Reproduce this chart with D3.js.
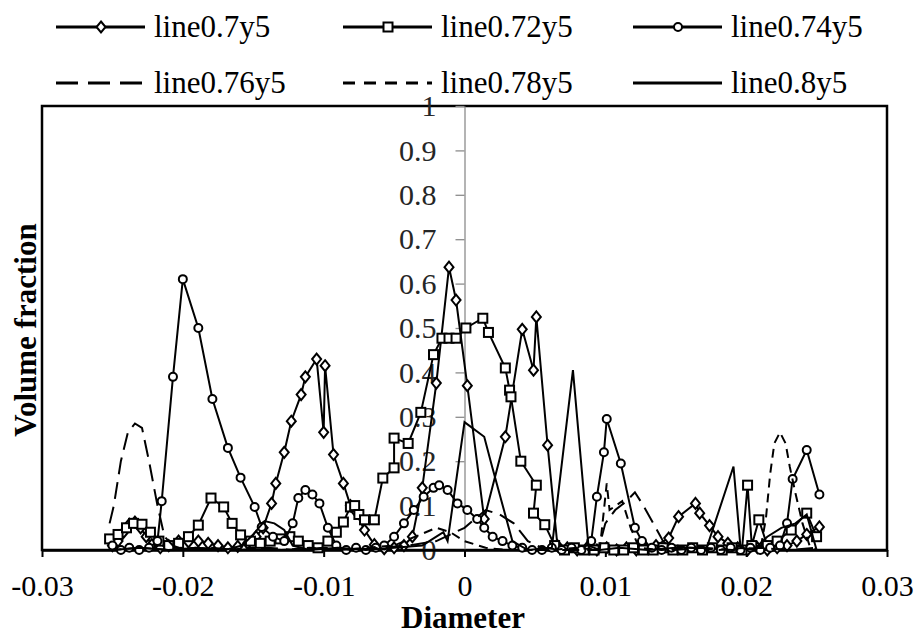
<!DOCTYPE html>
<html>
<head>
<meta charset="utf-8">
<script src="https://cdn.jsdelivr.net/npm/d3@7"></script>
<style>
  body { margin: 0; background: #fff; }
  svg text { font-family: "Liberation Serif", "Times New Roman", "DejaVu Serif", serif; }
</style>
</head>
<body>
<div id="chart-area"></div>
<script>
// series names, in legend order
var seriesNames = ["line0.7y5", "line0.72y5", "line0.74y5", "line0.76y5", "line0.78y5", "line0.8y5"];

// [diameter, volume fraction]
var s070 = [
  [-0.0250,0.010],[-0.0246,0.020],[-0.0242,0.040],[-0.0238,0.058],[-0.0234,0.063],[-0.0230,0.050],[-0.0226,0.030],[-0.0222,0.012],
  [-0.0216,0.005],[-0.0210,0.010],[-0.0203,0.020],[-0.0196,0.018],[-0.0189,0.020],[-0.0182,0.015],[-0.0175,0.010],[-0.0168,0.005],
  [-0.0161,0.008],[-0.0154,0.015],[-0.0148,0.030],[-0.0143,0.050],[-0.0137,0.105],[-0.0134,0.150],[-0.0128,0.220],[-0.0123,0.290],
  [-0.0116,0.350],[-0.0113,0.390],[-0.0105,0.430],[-0.0100,0.265],[-0.0099,0.415],[-0.0093,0.215],[-0.0086,0.150],[-0.0081,0.100],
  [-0.0078,0.090],[-0.0071,0.045],[-0.0064,0.012],[-0.0057,0.003],[-0.0050,0.005],[-0.0043,0.010],[-0.0037,0.030],[-0.0030,0.140],
  [-0.0020,0.376],[-0.0011,0.637],[-0.0006,0.563],[0.0002,0.370],[0.0014,0.070],[0.0029,0.255],[0.0041,0.497],[0.0049,0.405],
  [0.0051,0.525],[0.0059,0.236],[0.0066,0.010],[0.0073,0.005],[0.0080,0.000],[0.0087,0.005],[0.0094,0.000],[0.0101,0.005],
  [0.0108,0.000],[0.0115,0.005],[0.0122,0.000],[0.0129,0.005],[0.0136,0.010],[0.0145,0.027],[0.0152,0.075],[0.0164,0.105],
  [0.0167,0.083],[0.0174,0.055],[0.0180,0.030],[0.0187,0.015],[0.0194,0.005],[0.0201,0.000],[0.0208,0.005],[0.0215,0.000],
  [0.0222,0.005],[0.0229,0.010],[0.0236,0.020],[0.0243,0.035],[0.0252,0.052]
];
var s072 = [
  [-0.0252,0.025],[-0.0246,0.035],[-0.0240,0.050],[-0.0235,0.060],[-0.0229,0.058],[-0.0223,0.040],[-0.0217,0.020],[-0.0210,0.010],
  [-0.0203,0.015],[-0.0196,0.030],[-0.0189,0.056],[-0.0180,0.117],[-0.0171,0.097],[-0.0165,0.060],[-0.0159,0.034],[-0.0152,0.020],
  [-0.0145,0.015],[-0.0138,0.020],[-0.0131,0.025],[-0.0124,0.030],[-0.0118,0.020],[-0.0111,0.010],[-0.0104,0.005],[-0.0097,0.020],
  [-0.0091,0.040],[-0.0086,0.063],[-0.0081,0.097],[-0.0078,0.100],[-0.0075,0.080],[-0.0071,0.068],[-0.0064,0.068],[-0.0058,0.162],
  [-0.0050,0.185],[-0.0050,0.252],[-0.0040,0.240],[-0.0031,0.310],[-0.0022,0.440],[-0.0016,0.477],[-0.0011,0.477],[-0.0006,0.477],
  [0.0001,0.500],[0.0013,0.522],[0.0017,0.490],[0.0029,0.410],[0.0032,0.360],[0.0033,0.345],[0.0040,0.200],[0.0051,0.146],
  [0.0049,0.083],[0.0057,0.057],[0.0064,0.010],[0.0071,0.000],[0.0078,0.005],[0.0085,0.000],[0.0092,0.000],[0.0099,0.005],
  [0.0106,0.000],[0.0113,0.000],[0.0120,0.005],[0.0127,0.000],[0.0134,0.000],[0.0141,0.005],[0.0148,0.000],[0.0155,0.000],
  [0.0162,0.005],[0.0169,0.000],[0.0176,0.005],[0.0183,0.000],[0.0190,0.005],[0.0197,0.000],[0.0201,0.146],[0.0204,0.010],
  [0.0209,0.068],[0.0215,0.010],[0.0222,0.020],[0.0232,0.045],[0.0243,0.083],[0.0250,0.030]
];
var s074 = [
  [-0.0250,0.010],[-0.0244,0.000],[-0.0238,0.005],[-0.0231,0.000],[-0.0224,0.005],[-0.0218,0.020],[-0.0215,0.110],[-0.0207,0.390],
  [-0.0200,0.610],[-0.0189,0.500],[-0.0179,0.340],[-0.0168,0.230],[-0.0159,0.163],[-0.0149,0.097],[-0.0144,0.052],[-0.0136,0.030],
  [-0.0128,0.020],[-0.0122,0.060],[-0.0118,0.117],[-0.0113,0.135],[-0.0108,0.125],[-0.0103,0.105],[-0.0097,0.050],[-0.0091,0.010],
  [-0.0084,0.000],[-0.0077,0.005],[-0.0070,0.000],[-0.0063,0.005],[-0.0057,0.010],[-0.0050,0.030],[-0.0043,0.060],[-0.0036,0.090],
  [-0.0029,0.120],[-0.0022,0.140],[-0.0018,0.146],[-0.0012,0.135],[-0.0005,0.105],[0.0002,0.090],[0.0009,0.070],[0.0014,0.050],
  [0.0020,0.030],[0.0027,0.020],[0.0034,0.010],[0.0041,0.005],[0.0048,0.000],[0.0055,0.000],[0.0062,0.005],[0.0069,0.000],
  [0.0076,0.005],[0.0083,0.000],[0.0090,0.020],[0.0094,0.120],[0.0099,0.220],[0.0101,0.295],[0.0111,0.195],[0.0121,0.050],
  [0.0126,0.020],[0.0133,0.005],[0.0140,0.000],[0.0147,0.005],[0.0154,0.000],[0.0161,0.005],[0.0168,0.000],[0.0175,0.005],
  [0.0182,0.000],[0.0189,0.005],[0.0196,0.000],[0.0203,0.005],[0.0210,0.000],[0.0217,0.005],[0.0224,0.010],[0.0229,0.060],
  [0.0233,0.160],[0.0243,0.225],[0.0252,0.125]
];
var s076 = [
  [-0.0252,0.060],[-0.0249,0.100],[-0.0244,0.200],[-0.0239,0.265],[-0.0234,0.285],[-0.0229,0.275],[-0.0224,0.200],[-0.0218,0.100],
  [-0.0213,0.030],[-0.0207,0.010],[-0.0199,0.000],[-0.0180,0.005],[-0.0160,0.000],[-0.0140,0.005],[-0.0120,0.000],[-0.0100,0.005],
  [-0.0080,0.000],[-0.0060,0.005],[-0.0040,0.010],[-0.0020,0.020],[0.0000,0.050],[0.0015,0.090],[0.0025,0.080],[0.0035,0.060],
  [0.0045,0.020],[0.0055,0.005],[0.0070,0.000],[0.0085,0.000],[0.0095,0.000],[0.0100,0.060],[0.0107,0.090],[0.0115,0.110],
  [0.0121,0.130],[0.0127,0.100],[0.0134,0.060],[0.0141,0.020],[0.0148,0.000],[0.0170,0.005],[0.0190,0.000],[0.0210,0.005],
  [0.0230,0.000],[0.0250,0.005]
];
var s078 = [
  [-0.0250,0.000],[-0.0230,0.005],[-0.0210,0.000],[-0.0190,0.005],[-0.0170,0.000],[-0.0150,0.005],[-0.0130,0.000],[-0.0110,0.005],
  [-0.0090,0.000],[-0.0070,0.005],[-0.0050,0.010],[-0.0035,0.030],[-0.0020,0.050],[-0.0010,0.040],[0.0000,0.020],[0.0015,0.005],
  [0.0030,0.000],[0.0060,0.000],[0.0080,0.005],[0.0096,0.000],[0.0101,0.150],[0.0103,0.090],[0.0112,0.110],[0.0118,0.050],
  [0.0124,0.005],[0.0140,0.000],[0.0160,0.005],[0.0180,0.000],[0.0200,0.005],[0.0210,0.000],[0.0214,0.070],[0.0217,0.170],
  [0.0220,0.240],[0.0224,0.265],[0.0228,0.240],[0.0231,0.187],[0.0235,0.128],[0.0240,0.060],[0.0245,0.010],[0.0250,0.000]
];
var s080 = [
  [-0.0250,0.000],[-0.0230,0.005],[-0.0210,0.000],[-0.0190,0.005],[-0.0170,0.000],[-0.0158,0.010],[-0.0150,0.035],[-0.0142,0.065],
  [-0.0135,0.060],[-0.0128,0.045],[-0.0122,0.010],[-0.0110,0.000],[-0.0090,0.005],[-0.0070,0.000],[-0.0050,0.005],[-0.0030,0.010],
  [-0.0020,0.030],[-0.0015,0.040],[-0.0012,0.020],[0.0000,0.288],[0.0014,0.255],[0.0019,0.195],[0.0028,0.090],[0.0034,0.020],
  [0.0045,0.000],[0.0062,0.005],[0.0077,0.405],[0.0088,0.010],[0.0096,0.000],[0.0110,0.005],[0.0130,0.000],[0.0150,0.005],
  [0.0172,0.005],[0.0191,0.188],[0.0196,0.005],[0.0205,0.000],[0.0215,0.030],[0.0225,0.050],[0.0235,0.060],[0.0243,0.080],
  [0.0250,0.000]
];

var xTicks = [-0.03, -0.02, -0.01, 0, 0.01, 0.02, 0.03];
var xTickLabels = ["-0.03", "-0.02", "-0.01", "0", "0.01", "0.02", "0.03"];
var yTicks = [0, 0.1, 0.2, 0.3, 0.4, 0.5, 0.6, 0.7, 0.8, 0.9, 1];
var yTickLabels = ["0", "0.1", "0.2", "0.3", "0.4", "0.5", "0.6", "0.7", "0.8", "0.9", "1"];

var allSeries = [s070, s072, s074, s076, s078, s080];
// drawing style per series
var styles = [
  {dash: null, marker: "diamond"},
  {dash: null, marker: "square"},
  {dash: null, marker: "circle"},
  {dash: "17,8", marker: null},
  {dash: "9,6", marker: null},
  {dash: null, marker: null}
];

var serif = "'Liberation Serif', 'Times New Roman', 'DejaVu Serif', serif";
var width = 914, height = 634;
var plot = {left: 42, right: 887, top: 106, bottom: 550};

var svg = d3.select("#chart-area").append("svg")
    .attr("width", width)
    .attr("height", height)
    .style("background", "#fff");

var x = d3.scaleLinear().domain([-0.03, 0.03]).range([plot.left, plot.right]);
var y = d3.scaleLinear().domain([0, 1]).range([plot.bottom, plot.top]);

// plot area border
svg.append("rect")
    .attr("x", plot.left).attr("y", plot.top)
    .attr("width", plot.right - plot.left).attr("height", plot.bottom - plot.top)
    .attr("fill", "none").attr("stroke", "#000").attr("stroke-width", 2.5);

// y axis sits at diameter 0
var yAxisGroup = svg.append("g")
    .attr("transform", "translate(" + x(0) + ",0)")
    .call(d3.axisLeft(y).tickValues(yTicks)
        .tickFormat((d, i) => yTickLabels[i])
        .tickSize(9).tickSizeOuter(0).tickPadding(19));
yAxisGroup.attr("font-family", serif);
yAxisGroup.select(".domain").attr("stroke", "#8c8c8c").attr("stroke-width", 1.3);
yAxisGroup.selectAll(".tick line").attr("stroke", "#8c8c8c").attr("stroke-width", 1.3);
yAxisGroup.selectAll("text")
    .attr("font-size", "30px").attr("fill", "#262626");

var xAxisGroup = svg.append("g")
    .attr("transform", "translate(0," + y(0) + ")")
    .call(d3.axisBottom(x).tickValues(xTicks)
        .tickFormat((d, i) => xTickLabels[i])
        .tickSize(7).tickSizeOuter(0));
xAxisGroup.attr("font-family", serif);
xAxisGroup.select(".domain").attr("stroke", "#000").attr("stroke-width", 2.5);
xAxisGroup.selectAll(".tick line").attr("stroke", "#000").attr("stroke-width", 2);
xAxisGroup.selectAll("text")
    .attr("y", 25)
    .attr("font-size", "30px").attr("fill", "#000");

// axis titles
svg.append("text")
    .attr("x", 463).attr("y", 628)
    .attr("text-anchor", "middle")
    .attr("font-size", "31px").attr("font-weight", "bold")
    .text("Diameter");

svg.append("text")
    .attr("transform", "translate(36,330) rotate(-90)")
    .attr("text-anchor", "middle")
    .attr("font-size", "31px").attr("font-weight", "bold")
    .text("Volume fraction");

function drawMarker(sel, type) {
    if (type === "diamond") {
        sel.append("path").attr("d", "M0,-5.5L4.5,0L0,5.5L-4.5,0Z");
    } else if (type === "square") {
        sel.append("rect").attr("x", -4.5).attr("y", -4.5).attr("width", 9).attr("height", 9);
    } else if (type === "circle") {
        sel.append("circle").attr("r", 4);
    }
    sel.attr("fill", "#fff").attr("stroke", "#000").attr("stroke-width", 2);
}

var line = d3.line().x(d => x(d[0])).y(d => y(d[1]));

var seriesGroup = svg.append("g");
allSeries.forEach((data, i) => {
    var st = styles[i];
    seriesGroup.append("path")
        .datum(data)
        .attr("d", line)
        .attr("fill", "none")
        .attr("stroke", "#000")
        .attr("stroke-width", 2)
        .attr("stroke-dasharray", st.dash);
    if (st.marker) {
        seriesGroup.append("g").selectAll("g")
            .data(data).enter().append("g")
            .attr("transform", d => "translate(" + x(d[0]) + "," + y(d[1]) + ")")
            .each(function() { drawMarker(d3.select(this), st.marker); });
    }
});

// legend: two rows of three
var legendCols = [56, 343, 633];
var legendRows = [27, 83];
seriesNames.forEach((name, i) => {
    var st = styles[i];
    var lx = legendCols[i % 3], ly = legendRows[Math.floor(i / 3)];
    var item = svg.append("g").attr("transform", "translate(" + lx + "," + ly + ")");
    item.append("line")
        .attr("x1", 0).attr("x2", 89).attr("y1", 0).attr("y2", 0)
        .attr("stroke", "#000").attr("stroke-width", 3)
        .attr("stroke-dasharray", st.dash ? (i === 3 ? "22,10" : "12,9") : null);
    if (st.marker) {
        var m = item.append("g").attr("transform", "translate(45,0)");
        drawMarker(m, st.marker);
    }
    item.append("text")
        .attr("x", 98).attr("y", 10)
        .attr("font-size", "31px")
        .text(name);
});
</script>
</body>
</html>
